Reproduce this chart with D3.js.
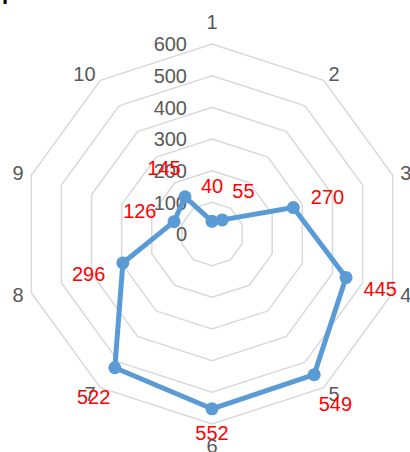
<!DOCTYPE html>
<html>
<head>
<meta charset="utf-8">
<script src="https://cdn.jsdelivr.net/npm/d3@7"></script>
<style>
  body { margin: 0; background: #fff; }
  svg { display: block; }
</style>
</head>
<body>
<script>
const categories = ["1", "2", "3", "4", "5", "6", "7", "8", "9", "10"];
const values = [40, 55, 270, 445, 549, 552, 522, 296, 126, 145];
const ticks = [0, 100, 200, 300, 400, 500, 600];
const titleText = "p";

const width = 410, height = 452;
const cx = 212, cy = 234, radius = 190;
const font = "'Liberation Sans', Arial, sans-serif";
const fs = 20;

const svg = d3.select("body").append("svg")
    .attr("width", width)
    .attr("height", height)
    .attr("viewBox", [0, 0, width, height]);

const r = d3.scaleLinear().domain([0, 600]).range([0, radius]);
const a = i => i * 2 * Math.PI / categories.length;
const pt = (i, v) => [cx + r(v) * Math.sin(a(i)), cy - r(v) * Math.cos(a(i))];

// title, mostly above the picture
svg.append("text")
    .attr("x", 2)
    .attr("y", -1)
    .attr("font-family", font)
    .attr("font-weight", "bold")
    .attr("font-size", 22)
    .text(titleText);

// rings
svg.append("g")
    .attr("fill", "none")
    .attr("stroke", "#d9d9d9")
    .attr("stroke-width", 1.5)
  .selectAll("path")
  .data(ticks.filter(t => t > 0))
  .join("path")
    .attr("d", t => d3.line()(categories.map((c, i) => pt(i, t))) + "Z");

// tick labels
svg.append("g")
    .attr("font-family", font)
    .attr("font-size", fs)
    .attr("fill", "#595959")
    .attr("text-anchor", "end")
  .selectAll("text")
  .data(ticks)
  .join("text")
    .attr("x", cx - 25)
    .attr("y", t => cy - r(t))
    .attr("dy", "0.36em")
    .text(t => t);

// category labels
svg.append("g")
    .attr("font-family", font)
    .attr("font-size", fs)
    .attr("fill", "#595959")
  .selectAll("text")
  .data(categories)
  .join("text")
    .each(function(c, i) {
      const [x, y] = pt(i, 600);
      const sx = Math.sin(a(i)), dy = -Math.cos(a(i));
      const side = Math.abs(sx) > 0.1;
      d3.select(this)
          .attr("x", x + sx * 8)
          .attr("y", y + dy * (side ? 8 : 22))
          .attr("dy", "0.36em")
          .attr("text-anchor", !side ? "middle" : sx > 0 ? "start" : "end");
    })
    .text(c => c);

// series line
svg.append("path")
    .attr("fill", "none")
    .attr("stroke", "#5b9bd5")
    .attr("stroke-width", 5)
    .attr("stroke-linejoin", "round")
    .attr("d", d3.line()(values.map((v, i) => pt(i, v))) + "Z");

svg.append("g")
    .attr("fill", "#5b9bd5")
  .selectAll("circle")
  .data(values)
  .join("circle")
    .attr("cx", (v, i) => pt(i, v)[0])
    .attr("cy", (v, i) => pt(i, v)[1])
    .attr("r", 6.5);

// data labels
svg.append("g")
    .attr("font-family", font)
    .attr("font-size", fs)
    .attr("fill", "#ff0000")
    .attr("text-anchor", "middle")
  .selectAll("text")
  .data(values)
  .join("text")
    .attr("x", (v, i) => pt(i, v)[0] + Math.sin(a(i)) * 36)
    .attr("y", (v, i) => Math.min(pt(i, v)[1] - Math.cos(a(i)) * 36, height - 19))
    .attr("dy", "0.36em")
    .text(v => v);
</script>
</body>
</html>
